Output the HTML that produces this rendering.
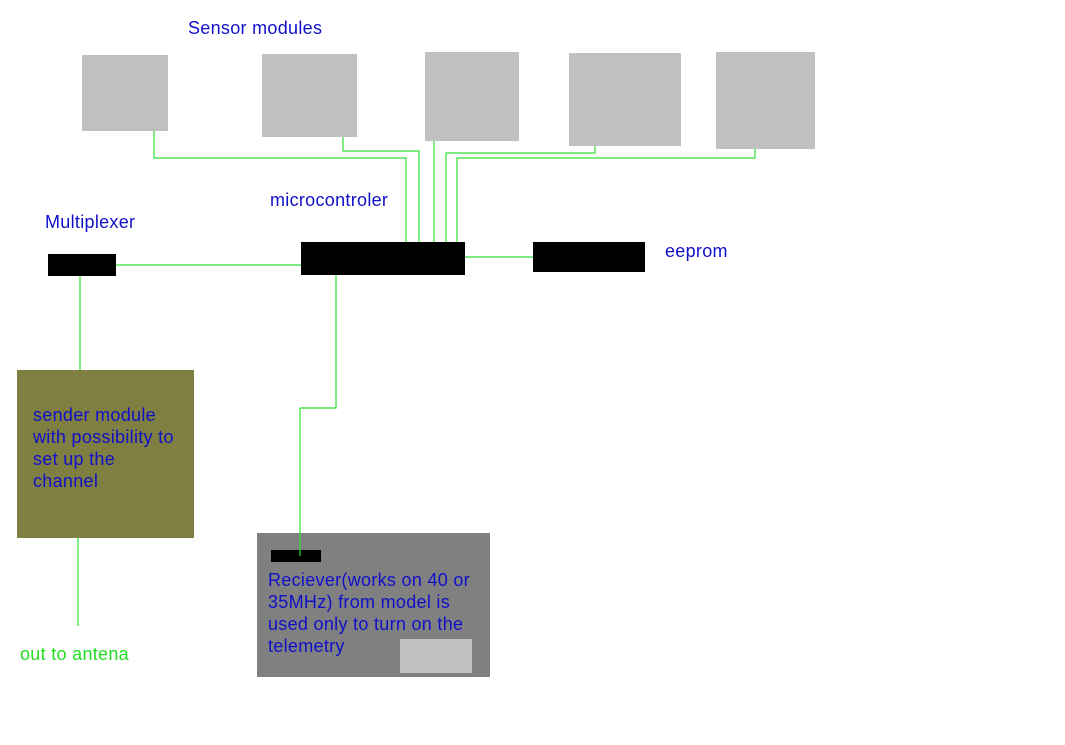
<!DOCTYPE html>
<html><head><style>
body{margin:0;width:1065px;height:745px;background:#fff;position:relative;overflow:hidden;font-family:"Liberation Sans",Arial,sans-serif;}
.b{position:absolute}
.g{background:#c0c0c0}
.k{background:#000}
.t{position:absolute;color:#1010c8;font-size:18px;letter-spacing:0.3px;line-height:22px;white-space:nowrap}
</style></head><body>
<div class="b g" style="left:82px;top:55px;width:86px;height:76px"></div>
<div class="b g" style="left:262px;top:54px;width:95px;height:83px"></div>
<div class="b g" style="left:425px;top:52px;width:94px;height:89px"></div>
<div class="b g" style="left:569px;top:53px;width:112px;height:93px"></div>
<div class="b g" style="left:716px;top:52px;width:99px;height:97px"></div>
<div class="b k" style="left:301px;top:242px;width:164px;height:33px"></div>
<div class="b k" style="left:48px;top:254px;width:68px;height:22px"></div>
<div class="b k" style="left:533px;top:242px;width:112px;height:30px"></div>
<div class="b" style="left:17px;top:370px;width:177px;height:168px;background:#807f42"></div>
<div class="b" style="left:257px;top:533px;width:233px;height:144px;background:#808080"></div>
<div class="b k" style="left:271px;top:550px;width:50px;height:12px"></div>
<div class="b g" style="left:400px;top:639px;width:72px;height:34px"></div>
<svg class="b" style="left:0;top:0" width="1065" height="745">
<g stroke="#33dd33" stroke-width="1.2" fill="none">
<polyline points="154,131 154,158 406,158 406,242"/>
<polyline points="343,137 343,151 419,151 419,242"/>
<polyline points="434,141 434,242"/>
<polyline points="595,146 595,153 446,153 446,242"/>
<polyline points="755,149 755,158 457,158 457,242"/>
<line x1="116" y1="265" x2="301" y2="265"/>
<line x1="465" y1="257" x2="533" y2="257"/>
<line x1="80" y1="276" x2="80" y2="370"/>
<line x1="78" y1="538" x2="78" y2="626"/>
<polyline points="336,275 336,408 300,408 300,556"/>
</g></svg>
<div class="t" style="left:188px;top:17px">Sensor modules</div>
<div class="t" style="left:270px;top:189px">microcontroler</div>
<div class="t" style="left:45px;top:211px">Multiplexer</div>
<div class="t" style="left:665px;top:240px">eeprom</div>
<div class="t" style="left:33px;top:404px">sender module<br>with possibility to<br>set up the<br>channel</div>
<div class="t" style="left:268px;top:569px">Reciever(works on 40 or<br>35MHz) from model is<br>used only to turn on the<br>telemetry</div>
<div class="t" style="left:20px;top:643px;color:#22dd22">out to antena</div>
</body></html>
